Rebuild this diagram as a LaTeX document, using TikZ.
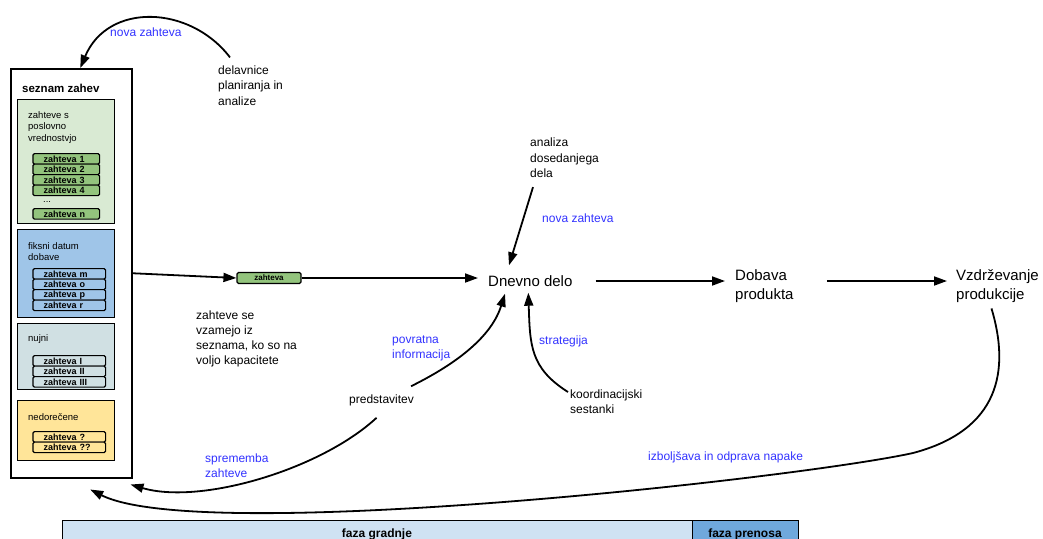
\documentclass[tikz,border=0pt]{standalone}
\usepackage{fontspec}
\setmainfont{Liberation Sans}
\usetikzlibrary{arrows.meta,calc}
\definecolor{lblue}{RGB}{50,50,255}
\definecolor{grnbox}{HTML}{D9EAD3}
\definecolor{grnitem}{HTML}{93C47D}
\definecolor{blubox}{HTML}{9FC5E8}
\definecolor{grybox}{HTML}{D0E0E3}
\definecolor{ylwbox}{HTML}{FFE599}
\definecolor{barlight}{HTML}{CFE2F3}
\definecolor{bardark}{HTML}{6FA8DC}
\tikzset{
  lbl/.style={anchor=west, inner sep=0pt, align=left, font=\fontsize{12}{15.5}\selectfont},
  blbl/.style={lbl, text=lblue},
  mainnode/.style={anchor=west, inner sep=0pt, align=left, font=\fontsize{15}{18.5}\selectfont},
  boxtxt/.style={anchor=west, inner sep=0pt, align=left, font=\fontsize{9.5}{11.5}\selectfont},
  grp/.style={draw, line width=1.3pt, anchor=north west, minimum width=97pt, inner sep=0pt},
  item/.style={draw, line width=1.2pt, rounded corners=1.5pt, anchor=north west, inner ysep=0pt,
    minimum height=10.5pt, align=left, font=\bfseries\fontsize{9}{9}\selectfont},
  gitem/.style={item, fill=grnitem, inner xsep=10.7pt, text width=45.3pt},
  oitem/.style={item, inner xsep=10.7pt, text width=51.3pt},
  arr/.style={line width=1.8pt, -{Triangle[length=13pt,width=9pt]}},
  bar/.style={draw, line width=1.3pt, anchor=north west, minimum height=25pt, inner sep=0pt,
    font=\bfseries\fontsize{12}{12}\selectfont, text depth=0pt}
}
\begin{document}
\begin{tikzpicture}[x=1pt,y=-1pt]
\useasboundingbox (0,0) rectangle (1043,538);

% ---- list of requirements ----
\node[draw, line width=1.5pt, anchor=north west, minimum width=121pt, minimum height=409pt, inner sep=0pt] (seznam) at (10,68) {};
\node[anchor=west, inner sep=0pt, font=\bfseries\fontsize{11.5}{12}\selectfont] (sznt) at (22,88) {seznam zahev};

\node[grp, fill=grnbox, minimum height=124pt] (gbox) at (17,99) {};
\node[boxtxt] (gtxt) at (28,127.5) {zahteve s\\poslovno\\vrednostvjo};
\node[gitem] (g1) at (32.3,153) {zahteva 1};
\node[gitem] (g2) at (32.3,163.5) {zahteva 2};
\node[gitem] (g3) at (32.3,174) {zahteva 3};
\node[gitem] (g4) at (32.3,184.5) {zahteva 4};
\node[boxtxt] (gdots) at (43,202) {...};
\node[gitem] (gn) at (32.3,208) {zahteva n};

\node[grp, fill=blubox, minimum height=88pt] (bbox) at (17,229) {};
\node[boxtxt] (btxt) at (28,251.5) {fiksni datum\\dobave};
\node[oitem, fill=blubox] (bm) at (32.3,268) {zahteva m};
\node[oitem, fill=blubox] (bo) at (32.3,278.5) {zahteva o};
\node[oitem, fill=blubox] (bp) at (32.3,289) {zahteva p};
\node[oitem, fill=blubox] (br) at (32.3,299.5) {zahteva r};

\node[grp, fill=grybox, minimum height=66pt] (ybox) at (17,323) {};
\node[boxtxt] (ytxt) at (28,339) {nujni};
\node[oitem, fill=grybox] (y1) at (32.3,355) {zahteva I};
\node[oitem, fill=grybox] (y2) at (32.3,365.5) {zahteva II};
\node[oitem, fill=grybox] (y3) at (32.3,376) {zahteva III};

\node[grp, fill=ylwbox, minimum height=60pt] (nbox) at (17,400) {};
\node[boxtxt] (ntxt) at (28,417) {nedore\v{c}ene};
\node[oitem, fill=ylwbox] (n1) at (32.3,431) {zahteva ?};
\node[oitem, fill=ylwbox] (n2) at (32.3,441.5) {zahteva ??};

% ---- token ----
\node[draw, line width=1.2pt, fill=grnitem, rounded corners=1.5pt, minimum width=64pt, minimum height=11pt,
  inner sep=0pt, font=\bfseries\fontsize{8}{8}\selectfont] (tok) at (269,278) {zahteva};

% ---- main nodes ----
\node[mainnode] (dn) at (488,281) {Dnevno delo};
\node[mainnode] (dob) at (735,286) {Dobava\\produkta};
\node[mainnode] (vz) at (956,286) {Vzdr\v{z}evanje\\produkcije};

% ---- text nodes ----
\node[lbl] (del) at (218,85.5) {delavnice\\planiranja in\\analize};
\node[lbl] (ana) at (530,158) {analiza\\dosedanjega\\dela};
\node[lbl, font=\fontsize{12}{15}\selectfont] (vzam) at (196,338.5) {zahteve se\\vzamejo iz\\seznama, ko so na\\voljo kapacitete};
\node[lbl] (pr) at (349,400) {predstavitev};
\node[lbl, font=\fontsize{12}{15}\selectfont] (ko) at (570,401.5) {koordinacijski\\sestanki};

\node[blbl] (l1) at (110,32) {nova zahteva};
\node[blbl] (l2) at (542,218.5) {nova zahteva};
\node[blbl, font=\fontsize{12}{15}\selectfont] (l3) at (392,348.5) {povratna\\informacija};
\node[blbl] (l4) at (539,341) {strategija};
\node[blbl, font=\fontsize{12}{14.5}\selectfont] (l5) at (205,465.5) {sprememba\\zahteve};
\node[blbl] (l6) at (648,457) {izbolj\v{s}ava in odprava napake};

% ---- phase bar ----
\node[bar, fill=barlight, minimum width=630pt] (fg) at (62,520) {};
\node[bar, fill=bardark, minimum width=106pt] (fp) at (692,520) {};
\node[anchor=base, inner sep=0pt, font=\bfseries\fontsize{12}{12}\selectfont] (fgt) at (377,537) {faza gradnje};
\node[anchor=base, inner sep=0pt, font=\bfseries\fontsize{12}{12}\selectfont] (fpt) at (745,537) {faza prenosa};

% ---- connectors ----
\draw[arr] (seznam.east) -- (tok.west);
\draw[arr, shorten >=10pt] (tok.east) -- (tok.east -| dn.west);
\draw[arr, shorten <=23pt, shorten >=10pt] (dn.east) -- (dn.east -| dob.west);
\draw[arr, shorten <=33pt, shorten >=9pt] (dn.east -| dob.east) -- (dn.east -| vz.west);

\draw[arr] ([shift={(12pt,8pt)}]del.north west) .. controls (190,5) and (108,2) .. ([xshift=9pt]seznam.north);
\draw[arr] ([shift={(3pt,-9pt)}]ana.south west) -- ([shift={(21pt,10pt)}]dn.north west);
\draw[arr] ([shift={(-2pt,9.5pt)}]ko.west) .. controls (530,368) and (530,345) .. ([shift={(-2pt,-6pt)}]dn.south);
\draw[arr] ([shift={(-3pt,8pt)}]pr.north east) .. controls (460,362) and (492,335) .. ([shift={(17pt,-7pt)}]dn.south west);
\draw[arr] ([shift={(-5pt,-12pt)}]pr.south) .. controls (320,470) and (200,505) .. ([shift={(-2pt,-6pt)}]seznam.south east);
\draw[arr] ([shift={(-6pt,-6pt)}]vz.south) .. controls (1010,370) and (1000,430) .. (913,453)
  .. controls (800,478) and (200,545) .. ([shift={(19pt,-11pt)}]seznam.south);
\end{tikzpicture}
\end{document}
